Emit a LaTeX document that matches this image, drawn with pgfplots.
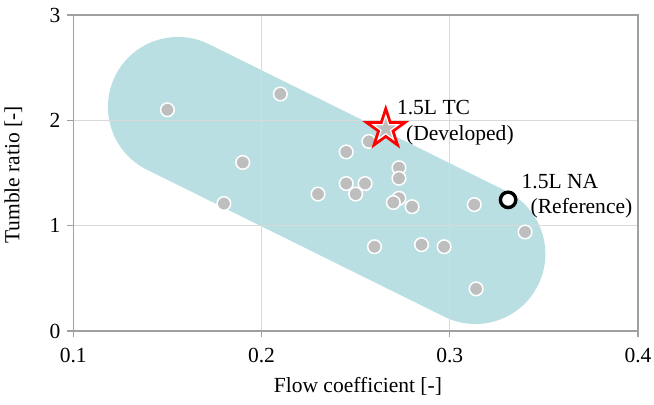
\documentclass[border=0pt]{standalone}
\usepackage{fontspec}
\setmainfont{Liberation Serif}
\usepackage{pgfplots}
\pgfplotsset{compat=1.18}

\definecolor{bandcyan}{RGB}{185,223,227}
\definecolor{ptgray}{RGB}{190,190,190}
\definecolor{framegray}{RGB}{160,160,160}
\definecolor{gridgray}{RGB}{217,217,217}

% five-pointed star mark (outer radius = mark size)
\pgfdeclareplotmark{fivestar}{%
  \pgfpathmoveto{\pgfqpointpolar{90}{\pgfplotmarksize}}%
  \pgfpathlineto{\pgfqpointpolar{126}{0.382\pgfplotmarksize}}%
  \pgfpathlineto{\pgfqpointpolar{162}{\pgfplotmarksize}}%
  \pgfpathlineto{\pgfqpointpolar{198}{0.382\pgfplotmarksize}}%
  \pgfpathlineto{\pgfqpointpolar{234}{\pgfplotmarksize}}%
  \pgfpathlineto{\pgfqpointpolar{270}{0.382\pgfplotmarksize}}%
  \pgfpathlineto{\pgfqpointpolar{306}{\pgfplotmarksize}}%
  \pgfpathlineto{\pgfqpointpolar{342}{0.382\pgfplotmarksize}}%
  \pgfpathlineto{\pgfqpointpolar{18}{\pgfplotmarksize}}%
  \pgfpathlineto{\pgfqpointpolar{54}{0.382\pgfplotmarksize}}%
  \pgfpathclose
  \pgfusepathqfillstroke
}

\begin{document}
\begin{tikzpicture}[font=\fontsize{10.8}{13}\selectfont]
\begin{axis}[
  set layers,
  scale only axis,
  width=282.35bp, height=158bp,
  xmin=0.1, xmax=0.4, ymin=0, ymax=3,
  xtick={0.1,0.2,0.3,0.4}, ytick={0,1,2,3},
  xticklabel style={yshift=-2bp,/pgf/number format/.cd,fixed,fixed zerofill,precision=1},
  /pgf/number format/assume math mode=true,
  xtick pos=left, ytick pos=left,
  tick align=outside,
  major tick length=3bp,
  tick style={framegray, line width=0.6bp},
  axis line style={framegray, line width=0.8bp},
  grid=major,
  major grid style={gridgray, line width=0.7bp},
  xlabel={Flow coefficient [-]},
  ylabel={Tumble ratio [-]},
  xlabel style={at={(axis description cs:0.504,-0.174)}, anchor=center},
  ylabel style={at={(axis description cs:-0.106,0.494)}, anchor=center},
]
% operating band of the engine population
\addplot[on layer=axis background, bandcyan, line width=70bp, line cap=round]
  coordinates {(0.1556,2.127) (0.3136,0.731)};

% surveyed engines
\addplot[only marks, mark=*, mark size=3.4bp,
  mark options={fill=ptgray, draw=white, line width=0.75bp}]
  coordinates {
    (0.150,2.10) (0.210,2.25) (0.190,1.60) (0.180,1.21)
    (0.245,1.70) (0.245,1.40) (0.255,1.40) (0.230,1.30)
    (0.250,1.30) (0.257,1.80) (0.273,1.55) (0.273,1.45)
    (0.273,1.26) (0.270,1.22) (0.280,1.18) (0.313,1.20)
    (0.340,0.94) (0.260,0.80) (0.285,0.82) (0.297,0.80)
    (0.314,0.40)
  };

% developed engine
\addplot[only marks, mark=fivestar, mark size=9.5bp,
  mark options={fill=ptgray, draw=red, line width=1.7bp, line join=miter}]
  coordinates {(0.266,1.92)};
\addplot[only marks, mark=fivestar, mark size=6.6bp,
  mark options={fill=ptgray, draw=white, line width=0.6bp, line join=miter}]
  coordinates {(0.266,1.92)};

% reference engine
\addplot[only marks, mark=*, mark size=3.85bp,
  mark options={fill=white, draw=black, line width=1.7bp}]
  coordinates {(0.331,1.245)};

\node[anchor=west, inner sep=0pt] at (axis cs:0.2718,2.122) {1.5L TC};
\node[anchor=west, inner sep=0pt] at (axis cs:0.2766,1.861) {(Developed)};
\node[anchor=west, inner sep=0pt] at (axis cs:0.3380,1.417) {1.5L NA};
\node[anchor=west, inner sep=0pt] at (axis cs:0.3428,1.168) {(Reference)};
\end{axis}
\pgfresetboundingbox
\path[use as bounding box]
  ([xshift=-36.65bp,yshift=-37bp]current axis.south west)
  rectangle ([xshift=8bp,yshift=7.5bp]current axis.north east);
\end{tikzpicture}
\end{document}
